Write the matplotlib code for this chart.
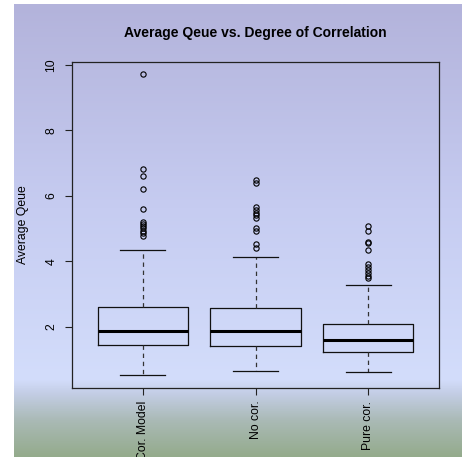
import matplotlib
matplotlib.use("Agg")
import matplotlib.pyplot as plt
import numpy as np
from matplotlib.colors import LinearSegmentedColormap

plt.rcParams["font.family"] = ["Liberation Sans", "DejaVu Sans"]

# Box statistics
GROUPS = ["Cor. Model", "No cor.", "Pure cor."]
WHISK_LO = [0.53, 0.67, 0.62]
Q1 = [1.45, 1.41, 1.25]
MEDIAN = [1.88, 1.88, 1.59]
Q3 = [2.60, 2.58, 2.08]
WHISK_HI = [4.35, 4.13, 3.28]
OUTLIERS_COR = [9.73, 6.82, 6.62, 6.20, 5.59, 5.22, 5.15, 5.08, 5.01, 4.94, 4.86, 4.78]
OUTLIERS_NO = [6.50, 6.40, 5.67, 5.57, 5.49, 5.41, 5.33, 5.03, 4.93, 4.53, 4.42]
OUTLIERS_PURE = [5.08, 4.94, 4.60, 4.57, 4.35, 3.91, 3.82, 3.74, 3.66, 3.57, 3.49]
OUTLIERS = [OUTLIERS_COR, OUTLIERS_NO, OUTLIERS_PURE]

W, H = 462, 457
fig = plt.figure(figsize=(W / 100, H / 100), dpi=100)
fig.patch.set_facecolor("white")

# background gradient (white margin on the left and top)
bg = fig.add_axes([14 / W, 0, (W - 14) / W, (H - 4) / H], zorder=0)
cmap = LinearSegmentedColormap.from_list(
    "bg",
    [(0.0, "#b3b3db"), (0.45, "#c6ccf1"), (0.83, "#d3ddfb"),
     (0.86, "#c4cee6"), (0.92, "#aabab6"), (1.0, "#94ab8c")],
)
grad = np.linspace(0, 1, 256).reshape(-1, 1)
bg.imshow(grad, aspect="auto", cmap=cmap, extent=[0, 1, 1, 0])
bg.set_axis_off()

ax = fig.add_axes([72 / W, 1 - 388 / H, (439 - 72) / W, (388 - 62) / H], zorder=1)
ax.patch.set_alpha(0)

stats = []
for i, g in enumerate(GROUPS):
    stats.append({
        "label": g, "whislo": WHISK_LO[i], "q1": Q1[i], "med": MEDIAN[i],
        "q3": Q3[i], "whishi": WHISK_HI[i], "fliers": OUTLIERS[i],
    })

ax.bxp(
    stats, positions=[1, 2, 3], widths=0.8, showfliers=True,
    boxprops=dict(color="#111111", linewidth=0.9),
    medianprops=dict(color="black", linewidth=2.2),
    whiskerprops=dict(color="#333333", linewidth=0.9, linestyle=(0, (3.5, 3))),
    capprops=dict(color="#111111", linewidth=0.9),
    capwidths=0.4,
    flierprops=dict(marker="o", markersize=3.8, markerfacecolor="none",
                    markeredgecolor="black", markeredgewidth=0.8),
)

ax.set_xlim(0.37, 3.63)
ax.set_ylim(0.137, 10.09)
ax.set_yticks([2, 4, 6, 8, 10])
ax.set_xticks([1, 2, 3])
ax.set_xticklabels(GROUPS, rotation=90, va="top")
for lbl in ax.get_yticklabels():
    lbl.set_rotation(90)
    lbl.set_va("center")
ax.tick_params(axis="both", direction="out", length=5, width=0.8,
               color="#222222", labelsize=8.8)
ax.tick_params(axis="y", pad=5.5)
ax.tick_params(axis="x", pad=4)
for s in ax.spines.values():
    s.set_color("#222222")
    s.set_linewidth(0.9)

ax.set_ylabel("Average Qeue", fontsize=8.8)
ax.yaxis.set_label_coords((29.5 - 72) / (439 - 72), 0.5)

fig.text(255.5 / W, 1 - 33 / H, "Average Qeue vs. Degree of Correlation",
         ha="center", va="center", fontsize=10, fontweight="bold")

fig.savefig("out.png", dpi=100)
